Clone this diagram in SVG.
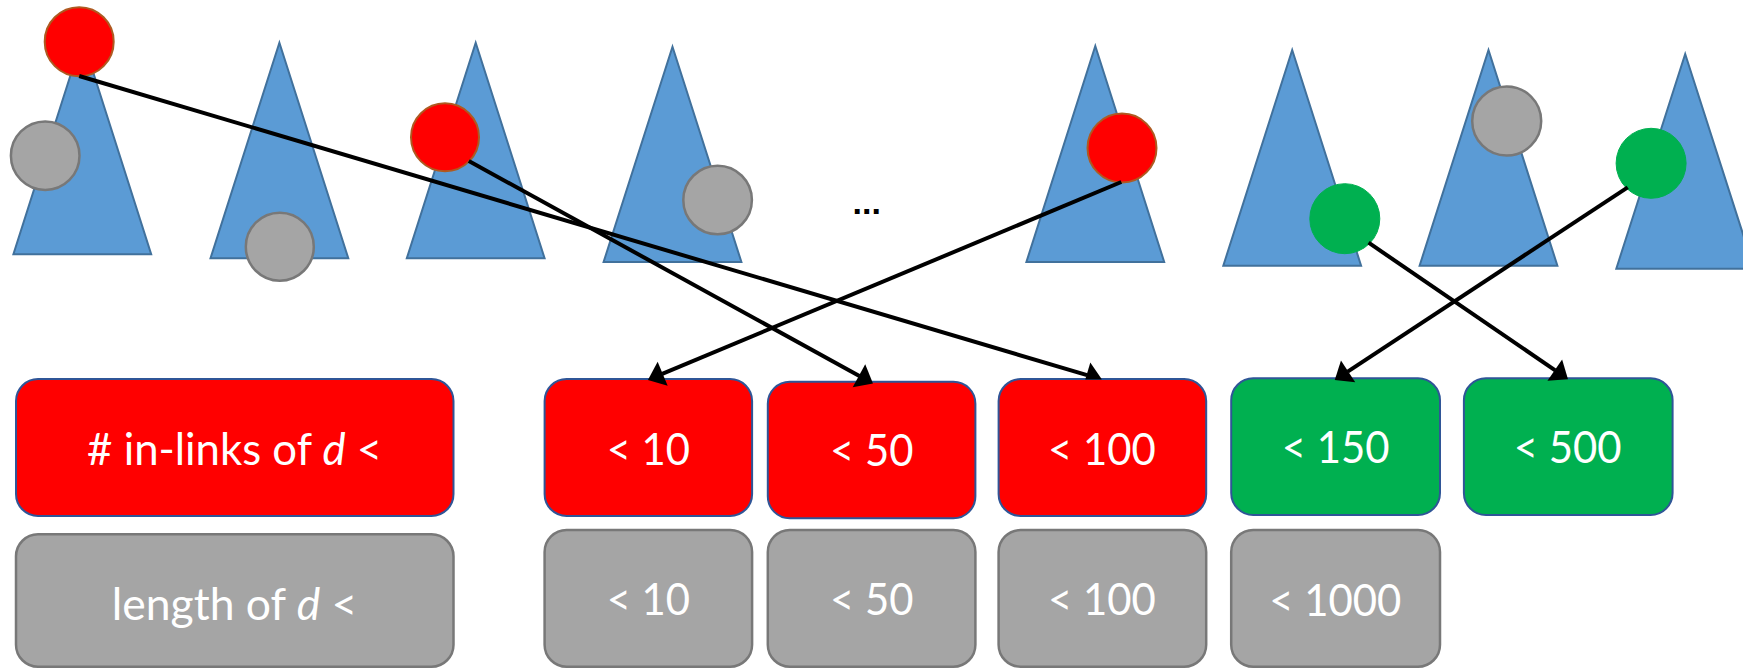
<svg xmlns="http://www.w3.org/2000/svg" width="1743" height="668" viewBox="0 0 1743 668">
  <style>
    .tree { fill: #5b9bd5; stroke: #41719c; stroke-width: 2; stroke-linejoin: miter; }
    .dot-red { fill: #ff0000; stroke: #ae5a21; stroke-width: 2; }
    .dot-gray { fill: #a5a5a5; stroke: #787878; stroke-width: 2.5; }
    .dot-green { fill: #00b050; stroke: #00b050; stroke-width: 1; }
    .box-red { fill: #ff0000; stroke: #2f5597; stroke-width: 2; }
    .box-green { fill: #00b050; stroke: #2f5597; stroke-width: 2; }
    .box-gray { fill: #a5a5a5; stroke: #787878; stroke-width: 2.5; }
    .label { font-family: Lato, "Liberation Sans", sans-serif; font-size: 44px; fill: #ffffff; text-anchor: middle; }
    .link { fill: none; stroke: #000000; stroke-width: 4; }
    .ellipsis { font-family: "Liberation Sans", sans-serif; font-weight: bold; font-size: 34px; fill: #000000; text-anchor: middle; }
  </style>
  <defs>
    <marker id="arrow" markerUnits="userSpaceOnUse" viewBox="0 0 16 26" refX="0.5" refY="13" markerWidth="16" markerHeight="26" orient="auto" overflow="visible">
      <path d="M0,0 L16,13 L0,26 Z" fill="#000000"/>
    </marker>
    <clipPath id="above-boxes">
      <rect x="0" y="0" width="1743" height="379.5"/>
    </clipPath>
  </defs>

  <!-- documents: one triangle per tree, with its document marker -->
  <g id="tree-1">
    <polygon class="tree" points="82.3,38.3 151.2,254.3 13.4,254.3"/>
    <circle class="dot-red" cx="79.2" cy="41.7" r="34.5"/>
    <circle class="dot-gray" cx="45.2" cy="155.7" r="34.3"/>
  </g>
  <g id="tree-2">
    <polygon class="tree" points="279.4,42.7 348.3,258.3 210.5,258.3"/>
    <circle class="dot-gray" cx="279.8" cy="246.7" r="34"/>
  </g>
  <g id="tree-3">
    <polygon class="tree" points="475.7,42.7 544.6,258.3 406.8,258.3"/>
    <circle class="dot-red" cx="445" cy="137.3" r="34"/>
  </g>
  <g id="tree-4">
    <polygon class="tree" points="672.5,46.7 741.4,262 603.6,262"/>
    <circle class="dot-gray" cx="717.6" cy="200" r="34.3"/>
  </g>
  <g id="ellipsis">
    <text class="ellipsis" x="866.7" y="214">...</text>
  </g>
  <g id="tree-5">
    <polygon class="tree" points="1095.3,46 1164.2,262 1026.4,262"/>
    <circle class="dot-red" cx="1122" cy="148" r="34.5"/>
  </g>
  <g id="tree-6">
    <polygon class="tree" points="1292.2,50 1361.1,265.7 1223.3,265.7"/>
    <circle class="dot-green" cx="1344.8" cy="218.7" r="35"/>
  </g>
  <g id="tree-7">
    <polygon class="tree" points="1488.5,50 1557.4,265.7 1419.6,265.7"/>
    <circle class="dot-gray" cx="1506.7" cy="121" r="34.5"/>
  </g>
  <g id="tree-8">
    <polygon class="tree" points="1685.2,54 1754.1,268.7 1616.3,268.7"/>
    <circle class="dot-green" cx="1651.1" cy="163.3" r="35"/>
  </g>

  <!-- in-link buckets -->
  <g id="inlinks-header">
    <rect class="box-red" x="16" y="379" width="437.5" height="137" rx="22" ry="22"/>
    <text class="label" x="234.6" y="465" textLength="295" lengthAdjust="spacingAndGlyphs"># in-links of <tspan font-style="italic">d</tspan> &lt;</text>
  </g>
  <g id="inlinks-10">
    <rect class="box-red" x="544.6" y="379" width="207.5" height="137" rx="22" ry="22"/>
    <text class="label" x="648.4" y="465" textLength="83.4" lengthAdjust="spacingAndGlyphs">&lt; 10</text>
  </g>
  <g id="inlinks-50">
    <rect class="box-red" x="767.8" y="381.7" width="207.6" height="136.6" rx="22" ry="22"/>
    <text class="label" x="871.8" y="466" textLength="83.4" lengthAdjust="spacingAndGlyphs">&lt; 50</text>
  </g>
  <g id="inlinks-100">
    <rect class="box-red" x="998.6" y="379" width="207.6" height="137" rx="22" ry="22"/>
    <text class="label" x="1102" y="465" textLength="107.8" lengthAdjust="spacingAndGlyphs">&lt; 100</text>
  </g>
  <g id="inlinks-150">
    <rect class="box-green" x="1231.2" y="378.3" width="208.8" height="136.7" rx="22" ry="22"/>
    <text class="label" x="1335.6" y="463.3" textLength="107.8" lengthAdjust="spacingAndGlyphs">&lt; 150</text>
  </g>
  <g id="inlinks-500">
    <rect class="box-green" x="1463.9" y="378.3" width="208.7" height="136.7" rx="22" ry="22"/>
    <text class="label" x="1567.6" y="463.3" textLength="107.8" lengthAdjust="spacingAndGlyphs">&lt; 500</text>
  </g>

  <!-- length buckets -->
  <g id="length-header">
    <rect class="box-gray" x="16" y="534.3" width="437.5" height="132.4" rx="22" ry="22"/>
    <text class="label" x="234.6" y="620" textLength="245.6" lengthAdjust="spacingAndGlyphs">length of <tspan font-style="italic">d</tspan> &lt;</text>
  </g>
  <g id="length-10">
    <rect class="box-gray" x="544.6" y="530" width="207.5" height="136.7" rx="22" ry="22"/>
    <text class="label" x="648.4" y="615" textLength="83.4" lengthAdjust="spacingAndGlyphs">&lt; 10</text>
  </g>
  <g id="length-50">
    <rect class="box-gray" x="767.8" y="530" width="207.6" height="136.7" rx="22" ry="22"/>
    <text class="label" x="871.8" y="615" textLength="83.4" lengthAdjust="spacingAndGlyphs">&lt; 50</text>
  </g>
  <g id="length-100">
    <rect class="box-gray" x="998.6" y="530" width="207.6" height="136.7" rx="22" ry="22"/>
    <text class="label" x="1102" y="615" textLength="107.8" lengthAdjust="spacingAndGlyphs">&lt; 100</text>
  </g>
  <g id="length-1000">
    <rect class="box-gray" x="1231.2" y="530" width="208.8" height="136.7" rx="22" ry="22"/>
    <text class="label" x="1335.3" y="616" textLength="132.1" lengthAdjust="spacingAndGlyphs">&lt; 1000</text>
  </g>

  <!-- document-to-bucket links -->
  <g id="connectors">
    <line class="link" x1="79.2" y1="76" x2="1087.1" y2="375.2" marker-end="url(#arrow)" clip-path="url(#above-boxes)"/>
    <line class="link" x1="468.8" y1="161" x2="859.4" y2="376" marker-end="url(#arrow)"/>
    <line class="link" x1="1121.3" y1="182" x2="662.2" y2="373.9" marker-end="url(#arrow)"/>
    <line class="link" x1="1627.7" y1="187.3" x2="1347.7" y2="371.6" marker-end="url(#arrow)"/>
    <line class="link" x1="1368.6" y1="242.7" x2="1555.2" y2="370.4" marker-end="url(#arrow)"/>
  </g>
</svg>
